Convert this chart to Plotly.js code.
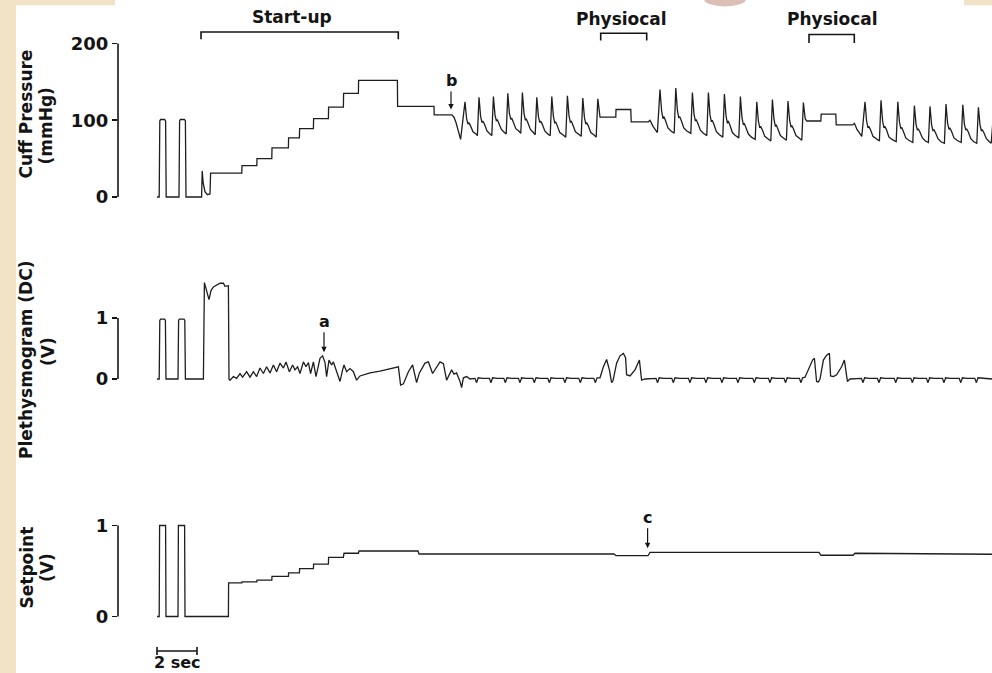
<!DOCTYPE html>
<html><head><meta charset="utf-8">
<script src="https://cdn.plot.ly/plotly-3.0.1.min.js"></script>
<style>html,body{margin:0;padding:0;background:#fff;}#chart{width:992px;height:673px;}</style>
</head><body><div id="chart"></div>
<script>
// time in seconds, values read from the recording
const cuffSamples = [
[-0.05,0],[0.06,0],[0.09,99],[0.13,101],[0.33,101],[0.38,99],[0.41,0],[1.05,0],[1.08,99],[1.12,101],[1.32,101],[1.37,99],[1.40,0],
[2.18,0],[2.21,34],[2.26,18],[2.35,7],[2.47,3],[2.60,4],[2.63,31],[4.19,31],[4.20,41],[4.94,41],[4.95,50],[5.69,50],[5.70,64],
[6.52,64],[6.53,77],[7.07,77],[7.08,89],[7.77,89],[7.78,102],[8.52,102],[8.53,117],[9.27,117],[9.28,135],[10.02,135],[10.03,152],
[11.97,152],[11.98,118],[13.80,118],[13.81,107],[14.69,107],[14.80,104],[14.90,97],[15.00,86],[15.13,75],
[15.35,124],[15.43,102],[15.50,95],[15.54,97],[15.62,93],[15.75,85],[15.90,82],[15.97,80],
[16.05,130],[16.13,105],[16.20,97],[16.24,99],[16.32,95],[16.45,86],[16.60,82],[16.69,80],
[16.77,131],[16.85,107],[16.92,99],[16.96,101],[17.04,96],[17.17,88],[17.32,84],[17.41,82],
[17.49,135],[17.57,109],[17.64,101],[17.68,103],[17.76,98],[17.89,89],[18.04,86],[18.14,83],
[18.22,136],[18.30,109],[18.37,100],[18.41,102],[18.49,97],[18.62,88],[18.77,84],[18.86,81],
[18.94,130],[19.02,105],[19.09,97],[19.13,99],[19.21,95],[19.34,86],[19.49,82],[19.61,80],
[19.69,131],[19.77,105],[19.84,96],[19.88,98],[19.96,93],[20.09,84],[20.24,81],[20.39,78],
[20.47,132],[20.55,106],[20.62,97],[20.66,99],[20.74,94],[20.87,85],[21.02,82],[21.16,79],
[21.24,129],[21.32,104],[21.39,95],[21.43,97],[21.51,93],[21.64,84],[21.79,81],[21.91,78],
[21.99,128],[22.08,106],[22.10,104],[22.89,104],[22.90,114],[23.64,114],[23.66,98],[24.52,98],[24.60,100],[24.75,92],[24.97,84],
[25.10,140],[25.18,112],[25.25,102],[25.29,105],[25.37,100],[25.50,90],[25.65,86],[25.81,83],
[25.89,142],[25.97,113],[26.04,103],[26.08,105],[26.16,100],[26.29,90],[26.44,86],[26.64,83],
[26.72,136],[26.80,108],[26.87,99],[26.91,101],[26.99,96],[27.12,87],[27.27,83],[27.44,80],
[27.52,136],[27.60,107],[27.67,98],[27.71,100],[27.79,95],[27.92,85],[28.07,81],[28.24,78],
[28.32,134],[28.40,106],[28.47,96],[28.51,99],[28.59,94],[28.72,84],[28.87,80],[29.04,77],
[29.12,131],[29.20,103],[29.27,94],[29.31,96],[29.39,91],[29.52,82],[29.67,78],[29.86,75],
[29.94,124],[30.02,99],[30.09,90],[30.13,92],[30.21,88],[30.34,79],[30.49,76],[30.64,73],
[30.72,127],[30.80,101],[30.87,92],[30.91,94],[30.99,89],[31.12,80],[31.27,77],[31.42,74],
[31.50,125],[31.58,100],[31.65,91],[31.69,93],[31.77,89],[31.90,80],[32.05,77],[32.19,74],
[32.27,123],[32.36,102],[32.44,99],[33.14,99],[33.16,108],[33.89,108],[33.91,94],[34.74,94],[34.82,96],[34.95,88],[35.19,79],
[35.35,124],[35.43,99],[35.50,90],[35.54,92],[35.62,88],[35.75,79],[35.90,76],[36.07,73],
[36.15,126],[36.23,99],[36.30,90],[36.34,92],[36.42,88],[36.55,78],[36.70,75],[36.91,72],
[36.99,124],[37.07,98],[37.14,89],[37.18,91],[37.26,86],[37.39,77],[37.54,74],[37.74,71],
[37.82,119],[37.90,95],[37.97,87],[38.01,89],[38.09,85],[38.22,77],[38.37,73],[38.52,71],
[38.60,118],[38.68,94],[38.75,86],[38.79,88],[38.87,84],[39.00,76],[39.15,72],[39.32,70],
[39.40,121],[39.48,96],[39.55,88],[39.59,90],[39.67,86],[39.80,77],[39.95,74],[40.16,71],
[40.24,120],[40.32,95],[40.39,87],[40.43,89],[40.51,85],[40.64,76],[40.79,72],[40.94,70],
[41.02,117],[41.10,94],[41.17,86],[41.21,88],[41.29,84],[41.42,76],[41.57,72],[41.66,70],[41.75,100]
];
const plethSamples = [
[-0.05,0],[0.06,0],[0.09,0.96],[0.13,0.98],[0.33,0.98],[0.37,0.96],[0.40,0],[1.00,0],[1.03,0.96],[1.07,0.98],[1.30,0.98],[1.34,0.96],[1.37,0],
[2.27,0],[2.32,1.58],[2.42,1.45],[2.55,1.30],[2.65,1.45],[2.77,1.51],[3.10,1.57],[3.27,1.57],[3.35,1.52],[3.52,1.53],[3.55,0],
[3.60,-0.02],[3.77,0.04],[3.93,0.01],[4.10,0.09],[4.23,0.03],[4.43,0.12],[4.60,0.03],[4.77,0.12],[4.93,0.04],[5.10,0.18],
[5.27,0.09],[5.43,0.20],[5.60,0.10],[5.77,0.23],[5.93,0.12],[6.10,0.26],[6.27,0.18],[6.40,0.28],[6.57,0.12],[6.73,0.23],
[6.85,0.15],[6.98,0.20],[7.10,0.09],[7.27,0.28],[7.40,0.20],[7.52,0.27],[7.63,0.09],[7.77,0.28],[7.90,0.04],[8.10,0.34],
[8.23,0.38],[8.35,0.27],[8.43,0.04],[8.55,0.31],[8.68,0.23],[8.77,0.28],[8.93,0.12],[9.10,-0.04],[9.23,0.15],[9.30,0.23],
[9.43,0.12],[9.60,0.17],[9.77,0.12],[9.93,-0.02],[10.10,0.05],[10.60,0.10],[11.10,0.13],[11.60,0.17],[12.02,0.20],
[12.13,-0.10],[12.27,-0.08],[12.52,0.12],[12.73,0.23],[12.93,-0.06],[13.07,0.10],[13.35,0.26],[13.52,0.28],[13.73,0.09],
[13.93,0.20],[14.10,0.28],[14.27,0.25],[14.43,-0.02],[14.68,0.15],[14.80,0.08],[14.93,0.10],[15.10,-0.04],[15.18,-0.14],
[15.27,0.02],[15.43,0.04],[15.60,0.00],
[15.85,0.01],[15.93,-0.06],[16.01,0.02],[16.23,0.01],[16.57,0.01],[16.65,-0.06],[16.73,0.02],[16.95,0.01],
[17.29,0.01],[17.37,-0.06],[17.45,0.02],[17.67,0.01],[18.02,0.01],[18.10,-0.06],[18.18,0.02],[18.40,0.01],
[18.74,0.01],[18.82,-0.06],[18.90,0.02],[19.12,0.01],[19.49,0.01],[19.57,-0.06],[19.65,0.02],[19.87,0.01],
[20.27,0.01],[20.35,-0.06],[20.43,0.02],[20.65,0.01],[21.04,0.01],[21.12,-0.06],[21.20,0.02],[21.42,0.01],
[21.79,0.01],[21.87,-0.06],[21.95,0.02],
[22.10,0.02],[22.27,0.20],[22.43,0.32],[22.57,0.15],[22.68,-0.06],[22.75,-0.03],[22.93,0.26],[23.10,0.38],[23.27,0.42],
[23.38,0.35],[23.43,0.07],[23.60,0.05],[23.85,0.15],[24.07,0.31],[24.18,-0.02],[24.35,0.00],[24.90,0.01],
[24.98,-0.06],[25.06,0.02],[25.28,0.01],[25.69,0.01],[25.77,-0.06],[25.85,0.02],[26.07,0.01],
[26.52,0.01],[26.60,-0.06],[26.68,0.02],[26.90,0.01],[27.32,0.01],[27.40,-0.06],[27.48,0.02],[27.70,0.01],
[28.12,0.01],[28.20,-0.06],[28.28,0.02],[28.50,0.01],[28.92,0.01],[29.00,-0.06],[29.08,0.02],[29.30,0.01],
[29.74,0.01],[29.82,-0.06],[29.90,0.02],[30.12,0.01],[30.52,0.01],[30.60,-0.06],[30.68,0.02],[30.90,0.01],
[31.30,0.01],[31.38,-0.06],[31.46,0.02],[31.68,0.01],[32.07,0.01],[32.15,-0.06],[32.23,0.02],
[32.35,0.03],[32.52,0.17],[32.73,0.31],[32.82,0.34],[32.93,-0.04],[33.02,-0.05],[33.10,0.00],[33.27,0.31],[33.43,0.39],
[33.57,0.42],[33.63,0.05],[33.77,0.04],[33.93,0.07],[34.18,0.20],[34.32,0.31],[34.47,-0.04],[34.60,0.00],[35.17,0.01],
[35.25,-0.06],[35.33,0.02],[35.55,0.01],[35.97,0.01],[36.05,-0.06],[36.13,0.02],[36.35,0.01],
[36.81,0.01],[36.89,-0.06],[36.97,0.02],[37.19,0.01],[37.64,0.01],[37.72,-0.06],[37.80,0.02],[38.02,0.01],
[38.42,0.01],[38.50,-0.06],[38.58,0.02],[38.80,0.01],[39.22,0.01],[39.30,-0.06],[39.38,0.02],[39.60,0.01],
[40.06,0.01],[40.14,-0.06],[40.22,0.02],[40.44,0.01],[40.84,0.01],[40.92,-0.06],[41.00,0.02],[41.22,0.01],[41.70,0.00]
];
const setpointSamples = [
[-0.05,0],[0.06,0],[0.08,1.0],[0.38,1.0],[0.40,0],[1.00,0],[1.02,1.0],[1.33,1.0],[1.35,0],[3.52,0],[3.53,0.37],
[4.19,0.37],[4.20,0.38],[4.94,0.38],[4.95,0.40],[5.69,0.40],[5.70,0.44],[6.52,0.44],[6.53,0.48],[7.07,0.48],[7.08,0.525],
[7.77,0.525],[7.78,0.575],[8.52,0.575],[8.53,0.65],[9.27,0.65],[9.30,0.695],[10.02,0.695],[10.05,0.72],[13.00,0.72],
[13.05,0.687],[22.80,0.687],[22.90,0.668],[24.50,0.668],[24.60,0.705],[33.05,0.705],[33.15,0.673],[34.75,0.673],
[34.85,0.695],[38.00,0.69],[41.70,0.684]
];
const cuffTicks = [0, 100, 200];
const cuffTickText = ['0', '100', '200'];
const voltTicks = [0, 1];
const voltTickText = ['0', '1'];
const axisTitles = [
  ['Cuff Pressure', '(mmHg)'],
  ['Plethysmogram (DC)', '(V)'],
  ['Setpoint', '(V)']
];
const phaseLabels = ['Start-up', 'Physiocal', 'Physiocal'];
const markerLetters = ['a', 'b', 'c'];
const scaleLabel = '2 sec';

const FONT = 'DejaVu Sans, Arial, sans-serif';
const INK = '#141414';
const col = (a, i) => a.map(p => p[i]);
const lineStyle = {color: '#1e1e1e', width: 1.3};

const traces = [
  {x: col(cuffSamples,0), y: col(cuffSamples,1), xaxis:'x', yaxis:'y', mode:'lines', line: lineStyle, hoverinfo:'skip'},
  {x: col(plethSamples,0), y: col(plethSamples,1), xaxis:'x', yaxis:'y2', mode:'lines', line: lineStyle, hoverinfo:'skip'},
  {x: col(setpointSamples,0), y: col(setpointSamples,1), xaxis:'x', yaxis:'y3', mode:'lines', line: lineStyle, hoverinfo:'skip'}
];

const yCommon = {
  showgrid:false, zeroline:false, showline:false, ticks:'outside', ticklen:5, tickwidth:1.6, tickcolor:INK,
  tickfont:{family:FONT, size:18, color:INK, weight:'bold'}, fixedrange:true, anchor:'x'
};
const bold17 = {family:FONT, size:17, color:INK, weight:'bold'};

function vline(yref, y1) {
  return {type:'line', xref:'paper', yref:yref, x0:0, x1:0, y0:0, y1:y1, line:{color:INK, width:1.6}};
}
function bracket(t0, t1, yTop, yBot) {
  return {type:'path', xref:'x', yref:'paper', path:`M ${t0},${yBot} L ${t0},${yTop} L ${t1},${yTop} L ${t1},${yBot}`, line:{color:INK, width:1.6}};
}
function rectP(x0, x1, y0, y1, c) {
  return {type:'rect', xref:'paper', yref:'paper', x0, x1, y0, y1, fillcolor:c, line:{width:0}, layer:'below'};
}

const shapes = [
  rectP(-0.13501, -0.11670, 0, 1, '#F2E2C6'),
  rectP(-0.13501, -0.00343, 0.99212, 1, '#F2E2C6'),
  rectP(0.96796, 1.0, 0.99212, 1, '#F2E2C6'),
  {type:'circle', xref:'paper', yref:'paper', x0:0.6705, x1:0.7185, y0:0.9905, y1:1.012, fillcolor:'rgba(185,125,110,0.5)', line:{width:0}, layer:'below'},
  vline('y', 200), vline('y2', 1), vline('y3', 1),
  bracket(2.15, 12.015, 0.95245, 0.94160),
  bracket(22.135, 24.435, 0.95052, 0.93982),
  bracket(32.55, 34.815, 0.94874, 0.93611),
  {type:'path', xref:'x', yref:'paper', path:'M -0.05,0.03863 L -0.05,0.02675 M -0.05,0.03269 L 1.95,0.03269 M 1.95,0.03863 L 1.95,0.02675', line:{color:INK, width:1.6}}
];

function titleAnn(text, x, y) {
  return {text, xref:'paper', yref:'paper', x, y, xanchor:'center', yanchor:'middle', textangle:-90, showarrow:false, font:bold17};
}
function letterAnn(text, x, yref, y, ay) {
  return {text, xref:'x', yref, x, y, ax:0, ay, showarrow:true, arrowhead:2, arrowsize:0.9, arrowwidth:1.2, arrowcolor:INK, standoff:0,
          font:{family:FONT, size:16, color:INK, weight:'bold'}};
}

const annotations = [
  titleAnn(axisTitles[0][0], -0.10526, 0.82987),
  titleAnn(axisTitles[0][1], -0.08238, 0.81352),
  titleAnn(axisTitles[1][0], -0.10526, 0.46508),
  titleAnn(axisTitles[1][1], -0.08010, 0.47845),
  titleAnn(axisTitles[2][0], -0.10526, 0.15676),
  titleAnn(axisTitles[2][1], -0.08181, 0.15676),
  {text:phaseLabels[0], xref:'x', yref:'paper', x:6.7, y:0.97548, xanchor:'center', yanchor:'middle', showarrow:false, font:bold17},
  {text:phaseLabels[1], xref:'x', yref:'paper', x:23.18, y:0.97251, xanchor:'center', yanchor:'middle', showarrow:false, font:bold17},
  {text:phaseLabels[2], xref:'x', yref:'paper', x:33.7, y:0.97251, xanchor:'center', yanchor:'middle', showarrow:false, font:bold17},
  letterAnn(markerLetters[0], 8.3, 'y2', 0.44, -31),
  letterAnn(markerLetters[1], 14.65, 'y', 114, -29),
  letterAnn(markerLetters[2], 24.48, 'y3', 0.75, -31),
  {text:scaleLabel, xref:'x', yref:'paper', x:0.95, y:0.0005, xanchor:'center', yanchor:'bottom', showarrow:false,
   font:{family:FONT, size:16, color:INK, weight:'bold'}, borderpad:0}
];

const layout = {
  width:992, height:673,
  margin:{l:118, r:0, t:0, b:0, pad:0},
  paper_bgcolor:'#ffffff', plot_bgcolor:'rgba(0,0,0,0)',
  showlegend:false,
  xaxis:{range:[-2, 41.7], visible:false, fixedrange:true},
  yaxis:Object.assign({}, yCommon, {domain:[0.67877, 0.96388], range:[-25, 225], tickvals:cuffTicks, ticktext:cuffTickText}),
  yaxis2:Object.assign({}, yCommon, {domain:[0.39153, 0.61813], range:[-0.5, 2.0], tickvals:voltTicks, ticktext:voltTickText}),
  yaxis3:Object.assign({}, yCommon, {domain:[0.04339, 0.28677], range:[-0.3, 1.5], tickvals:voltTicks, ticktext:voltTickText}),
  shapes, annotations
};

Plotly.newPlot('chart', traces, layout, {staticPlot:true, displayModeBar:false});
</script>
</body></html>
